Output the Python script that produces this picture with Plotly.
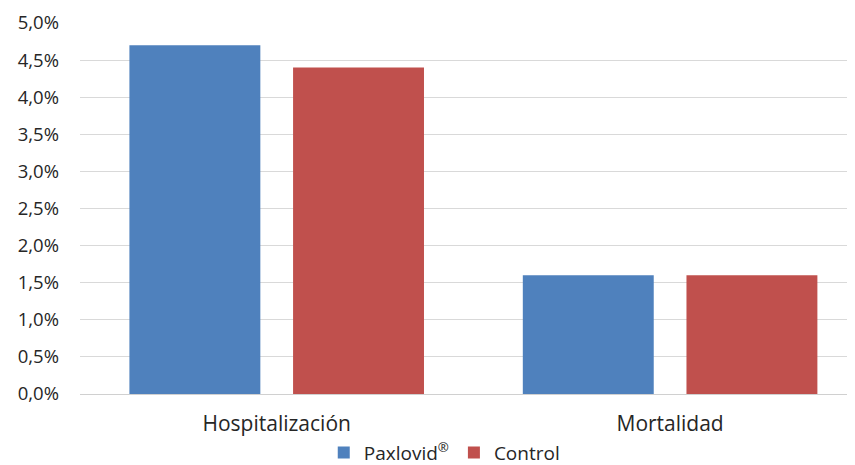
import plotly.graph_objects as go

categories = ["Hospitalización", "Mortalidad"]
paxlovid = [4.7, 1.6]
control = [4.4, 1.6]
series_names = ["Paxlovid<sup>®</sup>", "Control"]
y_ticks = [0, 0.5, 1, 1.5, 2, 2.5, 3, 3.5, 4, 4.5, 5]
y_tick_labels = [f"{v:.1f}%".replace(".", ",") for v in y_ticks]

fig = go.Figure()
fig.add_trace(go.Bar(x=categories, y=paxlovid, name=series_names[0], marker_color="#4F81BD",
                     marker_line_width=0))
fig.add_trace(go.Bar(x=categories, y=control, name=series_names[1], marker_color="#C0504D",
                     marker_line_width=0))

fig.update_layout(
    width=847, height=457,
    margin=dict(l=72, r=0, t=15, b=71, autoexpand=False),
    paper_bgcolor="white", plot_bgcolor="white",
    barmode="group", bargap=0.168, bargroupgap=0.2,
    font=dict(family="Open Sans", size=18, color="#262626"),
    showlegend=True,
    legend=dict(orientation="h", x=0.47, xanchor="center", y=-0.158, yanchor="middle",
                font=dict(size=19), itemwidth=30, tracegroupgap=0, bgcolor="rgba(0,0,0,0)"),
    xaxis=dict(range=[-0.5, 1.47], showgrid=False, showline=True, linecolor="#D0D0D0",
               linewidth=1, ticks="", ticklabelstandoff=11, automargin=False, fixedrange=True,
               tickfont=dict(size=21)),
    yaxis=dict(range=[0, 5], tickvals=y_ticks, ticktext=y_tick_labels,
               showgrid=True, gridcolor="#D9D9D9", gridwidth=1, zeroline=False,
               showline=False, ticks="", ticklabelstandoff=20, automargin=False,
               tickfont=dict(size=18.5)),
)

fig.write_html("out.html")
